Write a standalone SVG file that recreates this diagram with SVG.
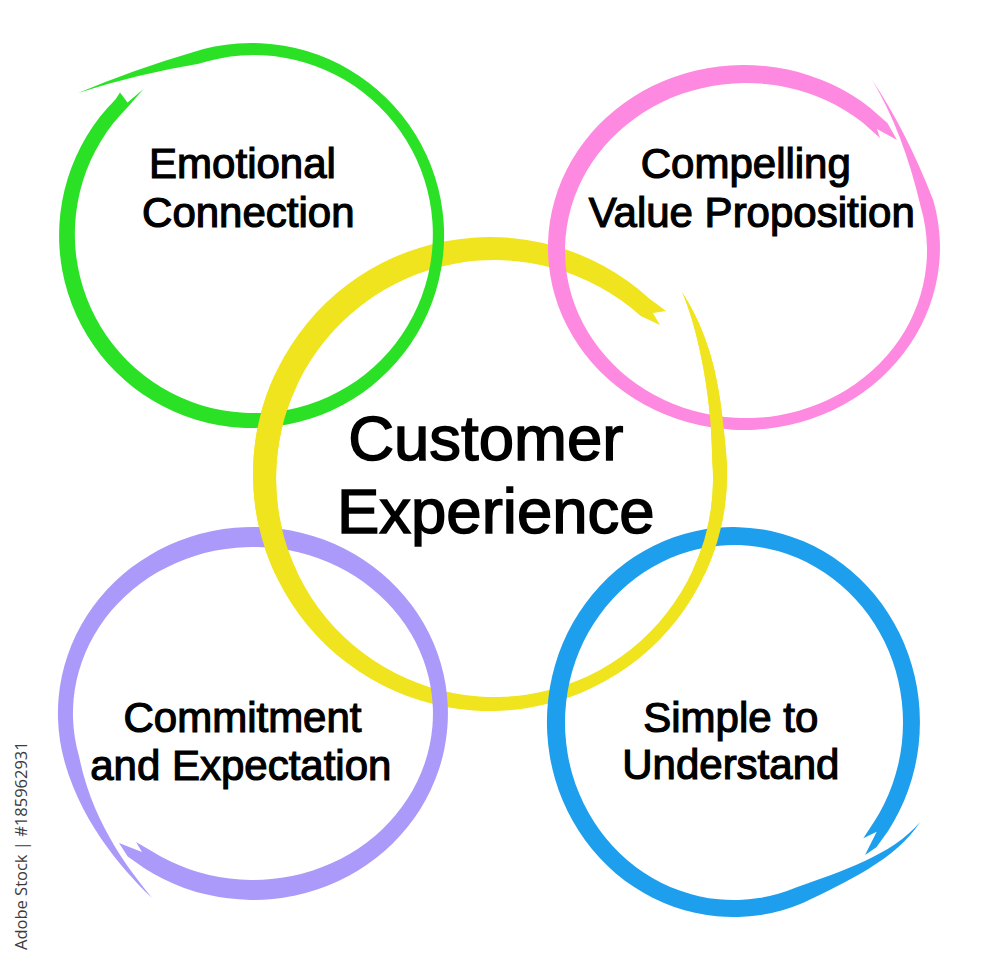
<svg xmlns="http://www.w3.org/2000/svg" width="1000" height="964" viewBox="0 0 1000 964">
<style>
.lbl{font-family:"Liberation Sans",Arial,sans-serif;font-size:42px;fill:#000;stroke:#000;stroke-width:1.2;text-anchor:middle}
.big{font-size:63.5px;stroke-width:1.5}
.g{fill:#2ae126}
.p{fill:#fd8ae0}
.y{fill:#f0e41e}
.v{fill:#ab9af9}
.b{fill:#1e9fee}
.wm{font-family:"Open Sans","DejaVu Sans",sans-serif;font-size:16.5px;fill:#3c3c3c}
</style>
<rect width="1000" height="964" fill="#ffffff"/>
<g id="customer-experience-ring">
<path class="y" d="M648.6,297.9 A237,237 0 1 0 726.1,453.3 C720.9,393.5 714.4,342.4 682,292 C695,320 712,390 712.2,459.4 A218.5,218.5 0 1 1 640.7,316.1 L660,325 L653,313 L666,311 Z"/>
</g>
<g id="emotional-connection">
<path class="g" d="M115.4,99.4 A192.5,192.5 0 1 0 192,52.4 Q135,69 78,93 Q137,74 198.7,63.8 A179,179 0 1 1 127.4,107.4 L143.5,89 L127.5,102.5 L120,92.5 Z"/>
<text class="lbl" x="242.5" y="178">Emotional</text>
<text class="lbl" x="248.3" y="226.7">Connection</text>
</g>
<g id="compelling-value-proposition">
<path class="p" d="M870,107.7 A196,182.5 0 1 0 933.3,200.3 Q906,130 872,80 Q903,131 920.8,207.1 A181,167.5 0 1 1 862.3,122.2 L880,138 L877,129 L897,140 L887.4,123 Z"/>
<text class="lbl" x="745.8" y="178.3">Compelling</text>
<text class="lbl" x="751.7" y="226.7">Value Proposition</text>
</g>
<g id="commitment-and-expectation">
<path class="v" d="M144,868.1 A195,186.5 0 1 0 64.6,761.8 C83.5,829.2 130.4,877 152,898 C133.2,874.1 93.1,826.5 79.1,756.6 A180,166.5 0 1 1 152.3,851.5 L136,842 L142,852 L119,843 L127.7,856.4 Z"/>
<text class="lbl" x="242.5" y="731.7">Commitment</text>
<text class="lbl" x="240.8" y="780">and Expectation</text>
</g>
<g id="simple-to-understand">
<path class="b" d="M888.1,831 A186.5,195 0 1 0 803.4,902.8 C844.1,883 897.1,859.1 920,822 C892.9,854.9 839.5,872 797.3,887.1 A169,177.5 0 1 1 874.1,821.8 L863.3,838.3 L876.7,831.7 L865,855 L876.4,847.3 Z"/>
<text class="lbl" x="730.8" y="731.7">Simple to</text>
<text class="lbl" x="730.8" y="779.3">Understand</text>
</g>
<g id="customer-experience">
<path class="y" d="M275.2,373.8 A237,237 0 0 0 275.2,574.2 L296.5,570.8 A218.5,218.5 0 0 1 296.5,386.2 Z"/>
<path class="y" d="M704.8,574.2 A237,237 0 0 0 726.1,453.3 C720.9,393.5 714.4,342.4 682,292 C695,320 712,390 712.2,459.4 A218.5,218.5 0 0 1 692.5,570.8 Z"/>
<text class="lbl big" x="485.8" y="460">Customer</text>
<text class="lbl big" x="495.8" y="533.3">Experience</text>
</g>
<g id="connectors"></g>
<text class="wm" transform="translate(27,950) rotate(-90)">Adobe Stock | #185962931</text>
</svg>
